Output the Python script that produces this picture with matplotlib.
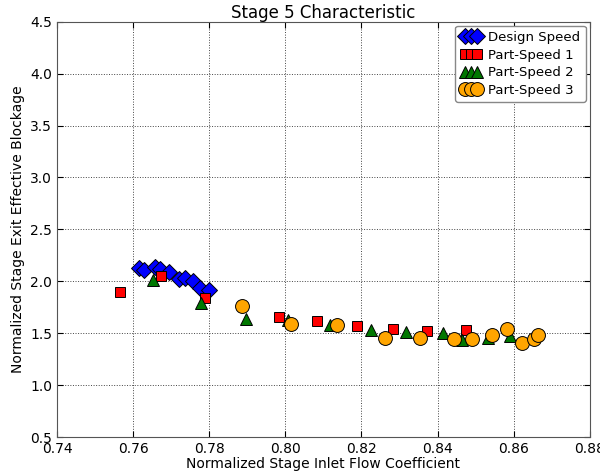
import matplotlib
matplotlib.use("Agg")
import matplotlib.pyplot as plt
import numpy as np

# Design speed
ds_x = [0.7616, 0.7629, 0.7657, 0.7671, 0.7694, 0.7721, 0.7737, 0.7758, 0.7777, 0.7800]
ds_y = [2.13, 2.11, 2.14, 2.12, 2.09, 2.02, 2.03, 2.00, 1.94, 1.92]

# Part-speed 1
p1_x = [0.7565, 0.7674, 0.7790, 0.7984, 0.8084, 0.8187, 0.8282, 0.8373, 0.8476]
p1_y = [1.90, 2.05, 1.84, 1.66, 1.62, 1.57, 1.54, 1.52, 1.53]

# Part-speed 2
p2_x = [0.7651, 0.7778, 0.7896, 0.8008, 0.8117, 0.8224, 0.8318, 0.8413, 0.8463, 0.8533, 0.8590]
p2_y = [2.01, 1.79, 1.64, 1.63, 1.58, 1.53, 1.51, 1.50, 1.43, 1.45, 1.47]

# Part-speed 3
p3_x = [0.7885, 0.8014, 0.8136, 0.8262, 0.8355, 0.8444, 0.8491, 0.8544, 0.8582, 0.8623, 0.8654, 0.8664]
p3_y = [1.76, 1.59, 1.58, 1.45, 1.45, 1.44, 1.44, 1.48, 1.54, 1.41, 1.44, 1.48]

fig = plt.figure(figsize=(6.0, 4.73), dpi=100)
ax = fig.add_axes([0.095, 0.076, 0.888, 0.878])

ax.plot(ds_x, ds_y, 'D', color='#0000ff', mec='black', mew=0.7, ms=8, label='Design Speed')
ax.plot(p1_x, p1_y, 's', color='#ff0000', mec='black', mew=0.7, ms=7, label='Part-Speed 1')
ax.plot(p2_x, p2_y, '^', color='#007700', mec='black', mew=0.7, ms=8, label='Part-Speed 2')
ax.plot(p3_x, p3_y, 'o', color='#ffa500', mec='black', mew=0.7, ms=10, label='Part-Speed 3')

ax.set_xlim(0.74, 0.88)
ax.set_ylim(0.5, 4.5)
ax.set_xticks(np.arange(0.74, 0.8801, 0.02))
ax.set_yticks(np.arange(0.5, 4.501, 0.5))
ax.set_xticklabels(['%.2f' % v for v in np.arange(0.74, 0.8801, 0.02)])
ax.set_yticklabels(['%.1f' % v for v in np.arange(0.5, 4.501, 0.5)])
ax.tick_params(direction='in', top=True, right=True, labelsize=10, length=4)
ax.grid(True, color='#444444', linestyle=':', linewidth=0.7)
for s in ax.spines.values():
    s.set_color('#555555')

ax.set_title('Stage 5 Characteristic', fontsize=12, pad=3)
ax.set_xlabel('Normalized Stage Inlet Flow Coefficient', fontsize=10, labelpad=1)
ax.set_ylabel('Normalized Stage Exit Effective Blockage', fontsize=10)

leg = ax.legend(loc='upper right', numpoints=3, handlelength=1.5, handletextpad=0.6,
                fontsize=9.5, borderpad=0.4, labelspacing=0.35, fancybox=True, framealpha=1,
                borderaxespad=0.3)
leg.get_frame().set_edgecolor('#888888')

fig.savefig('out.png', dpi=100)
